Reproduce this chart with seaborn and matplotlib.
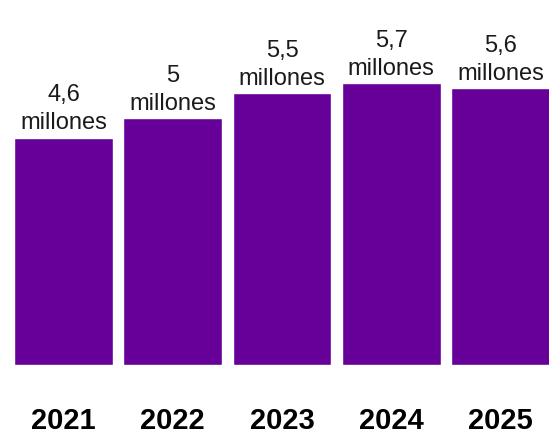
import matplotlib
matplotlib.use("Agg")
import matplotlib.pyplot as plt
import seaborn as sns
import pandas as pd

years = ["2021", "2022", "2023", "2024", "2025"]
values = [4.6, 5.0, 5.5, 5.7, 5.6]
labels = ["4,6\nmillones", "5\nmillones", "5,5\nmillones", "5,7\nmillones", "5,6\nmillones"]

sns.set_theme(style="white")
plt.rcParams['font.family'] = ['Liberation Sans', 'DejaVu Sans']

df = pd.DataFrame({"year": years, "value": values})

fig = plt.figure(figsize=(5.49, 4.34), dpi=100)
ax = fig.add_axes([0, 69/434, 1, 365/434])
sns.barplot(data=df, x="year", y="value", color="#660099", saturation=1,
            width=0.906, ax=ax)

px_per_unit = 109.25
xmin = -63.5 / px_per_unit
ax.set_xlim(xmin, xmin + 549 / px_per_unit)
ax.set_ylim(0, 365 / 49.4)

ax.bar_label(ax.containers[0], labels=labels, padding=2.5, fontsize=17,
             color="#1a1a1a", linespacing=1.35)

ax.set_xlabel("")
ax.set_ylabel("")
ax.set_yticks([])
ax.tick_params(axis="x", length=0, pad=30)
for t in ax.get_xticklabels():
    t.set_fontsize(21)
    t.set_fontweight("bold")
    t.set_color("#000000")
for s in ax.spines.values():
    s.set_visible(False)

fig.savefig("out.png", dpi=100)
